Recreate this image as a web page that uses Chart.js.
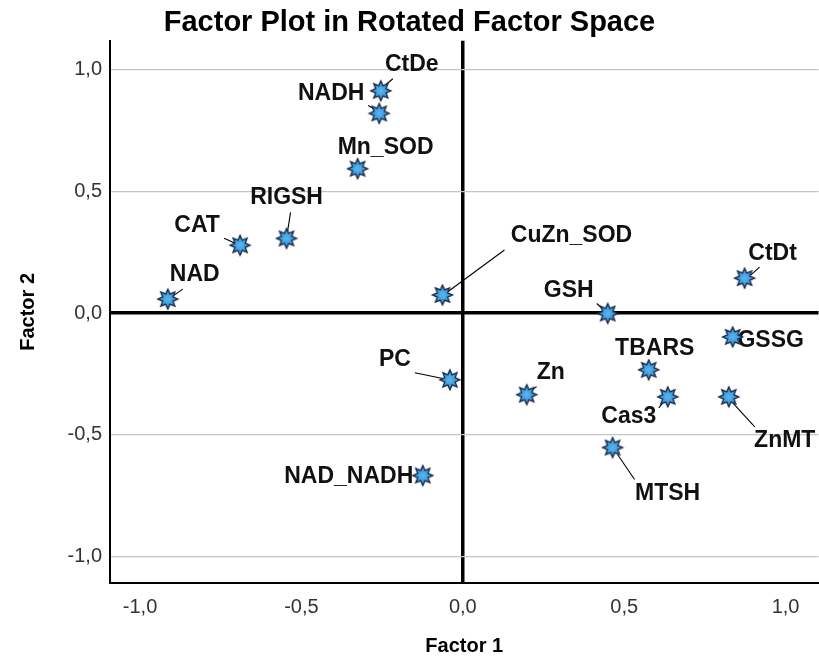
<!DOCTYPE html>
<html>
<head>
<meta charset="utf-8">
<title>Factor Plot in Rotated Factor Space</title>
<script src="https://cdn.jsdelivr.net/npm/chart.js@4.4.1/dist/chart.umd.min.js"></script>
<style>
  html, body { margin: 0; padding: 0; background: #ffffff; }
  #wrap { width: 819px; height: 658px; }
</style>
</head>
<body>
<div id="wrap"><canvas id="plot" width="819" height="658"></canvas></div>
<script>
// Rotated factor loadings for each variable
const variables = ['CtDe', 'NADH', 'Mn_SOD', 'RIGSH', 'CAT', 'NAD', 'CuZn_SOD', 'GSH', 'CtDt',
                   'GSSG', 'TBARS', 'Zn', 'Cas3', 'ZnMT', 'MTSH', 'PC', 'NAD_NADH'];
const factor1 = [-0.254, -0.259, -0.326, -0.546, -0.690, -0.914, -0.063, 0.449, 0.873,
                 0.836, 0.576, 0.198, 0.635, 0.824, 0.464, -0.040, -0.124];
const factor2 = [0.912, 0.819, 0.592, 0.306, 0.278, 0.057, 0.074, -0.002, 0.143,
                 -0.098, -0.233, -0.335, -0.344, -0.344, -0.552, -0.274, -0.667];
const xTicks = [-1.0, -0.5, 0.0, 0.5, 1.0];
const yTicks = [-1.0, -0.5, 0.0, 0.5, 1.0];

// Where each variable name sits relative to its marker (pixels):
// dx/dy = text centre, line = leader segment [x1, y1, x2, y2]
const labelPlacement = {
  'CtDe':     { dx: 31,  dy: -26, line: [12, -12, 5, -6] },
  'NADH':     { dx: -48, dy: -20, line: [-11, -8, -4, -4] },
  'Mn_SOD':   { dx: 28,  dy: -21, line: [0, -10, 0, -6] },
  'RIGSH':    { dx: 0,   dy: -41, line: [4, -26, 1, -7] },
  'CAT':      { dx: -43, dy: -20, line: [-16, -7, -5, -2] },
  'NAD':      { dx: 27,  dy: -24, line: [15, -10, 5, -3] },
  'CuZn_SOD': { dx: 129, dy: -59, line: [62, -45, 5, -3] },
  'GSH':      { dx: -39, dy: -23, line: [-11, -10, -3, -3] },
  'CtDt':     { dx: 28,  dy: -24, line: [15, -11, 6, -3] },
  'GSSG':     { dx: 38,  dy: 4 },
  'TBARS':    { dx: 6,   dy: -21 },
  'Zn':       { dx: 24,  dy: -22, line: [10, -8, 4, -4] },
  'Cas3':     { dx: -39, dy: 20, line: [-9, 11, -5, 6] },
  'ZnMT':     { dx: 56,  dy: 44, line: [26, 30, 4, 6] },
  'MTSH':     { dx: 55,  dy: 46, line: [22, 32, 5, 7] },
  'PC':       { dx: -55, dy: -20, line: [-35, -7, -6, -1] },
  'NAD_NADH': { dx: -74, dy: 1 }
};

const FONT = '"Liberation Sans", Arial, Helvetica, sans-serif';

// Starburst marker
function makeStar() {
  const size = 24, c = size / 2;
  const cv = document.createElement('canvas');
  cv.width = size; cv.height = size;
  const g = cv.getContext('2d');
  const spikes = 8, outer = 10, inner = 5.6;
  g.beginPath();
  for (let i = 0; i < spikes * 2; i++) {
    const r = i % 2 === 0 ? outer : inner;
    const a = -Math.PI / 2 + i * Math.PI / spikes;
    const px = c + r * Math.cos(a), py = c + r * Math.sin(a);
    if (i === 0) g.moveTo(px, py); else g.lineTo(px, py);
  }
  g.closePath();
  const grad = g.createRadialGradient(c, c, 0, c, c, outer);
  grad.addColorStop(0, '#5ab8f0');
  grad.addColorStop(1, '#2f86d0');
  g.fillStyle = grad;
  g.fill();
  g.lineWidth = 1.3;
  g.strokeStyle = '#14233f';
  g.stroke();
  return cv;
}
const starMarker = makeStar();

const points = variables.map((name, i) => ({ x: factor1[i], y: factor2[i], name }));

const fmt = v => v.toFixed(1).replace('.', ',');

// Variable names with leader lines, drawn beneath the markers
const nameLabels = {
  id: 'nameLabels',
  beforeDatasetsDraw(chart) {
    const { ctx, scales } = chart;
    ctx.save();
    ctx.font = 'bold 23px ' + FONT;
    ctx.textAlign = 'center';
    ctx.textBaseline = 'middle';
    ctx.fillStyle = '#111';
    ctx.strokeStyle = '#000';
    ctx.lineWidth = 1.1;
    points.forEach(p => {
      const px = scales.x.getPixelForValue(p.x);
      const py = scales.y.getPixelForValue(p.y);
      const lp = labelPlacement[p.name];
      if (lp.line) {
        ctx.beginPath();
        ctx.moveTo(px + lp.line[0], py + lp.line[1]);
        ctx.lineTo(px + lp.line[2], py + lp.line[3]);
        ctx.stroke();
      }
      ctx.fillText(p.name, px + lp.dx, py + lp.dy);
    });
    ctx.restore();
  }
};

const zeroGrid = (ctx) => (ctx.tick && ctx.tick.value === 0);

new Chart(document.getElementById('plot'), {
  type: 'scatter',
  data: {
    datasets: [{
      label: 'Loadings',
      data: points,
      pointStyle: starMarker,
      pointRadius: 0.5,
      pointBorderWidth: 0,
      pointHoverRadius: 0.5
    }]
  },
  plugins: [nameLabels],
  options: {
    responsive: false,
    animation: false,
    events: [],
    layout: { padding: 0 },
    plugins: {
      legend: { display: false },
      tooltip: { enabled: false },
      title: {
        display: true,
        text: 'Factor Plot in Rotated Factor Space',
        color: '#000',
        font: { family: FONT, size: 29, weight: 'bold', lineHeight: 1.2 },
        padding: { top: 6, bottom: 0 }
      }
    },
    scales: {
      x: {
        type: 'linear',
        min: -1.093,
        max: 1.102,
        afterBuildTicks: s => { s.ticks = xTicks.map(v => ({ value: v })); },
        afterFit: s => { s.height = 75; s.paddingLeft = 0; s.paddingRight = 0; },
        ticks: {
          color: '#333',
          font: { family: FONT, size: 20 },
          padding: 12,
          callback: v => fmt(v)
        },
        grid: {
          drawTicks: false,
          color: c => zeroGrid(c) ? '#000' : 'rgba(0,0,0,0)',
          lineWidth: c => zeroGrid(c) ? 3.5 : 0
        },
        border: { display: true, color: '#000', width: 2 },
        title: {
          display: true,
          text: 'Factor 1',
          color: '#000',
          font: { family: FONT, size: 20, weight: 'bold', lineHeight: 1.2 },
          padding: { top: 0, bottom: 0 }
        }
      },
      y: {
        type: 'linear',
        min: -1.108,
        max: 1.117,
        afterBuildTicks: s => { s.ticks = yTicks.map(v => ({ value: v })); },
        afterFit: s => { s.width = 110; s.paddingTop = 0; s.paddingBottom = 0; },
        ticks: {
          color: '#333',
          font: { family: FONT, size: 20 },
          padding: 8,
          callback: v => fmt(v)
        },
        grid: {
          drawTicks: false,
          color: c => zeroGrid(c) ? '#000' : '#c4c4c4',
          lineWidth: c => zeroGrid(c) ? 3.5 : 1.2
        },
        border: { display: true, color: '#000', width: 2 },
        title: {
          display: true,
          text: 'Factor 2',
          color: '#000',
          font: { family: FONT, size: 20, weight: 'bold', lineHeight: 1.2 },
          padding: { top: 16, bottom: 0 }
        }
      }
    }
  }
});
</script>
</body>
</html>
